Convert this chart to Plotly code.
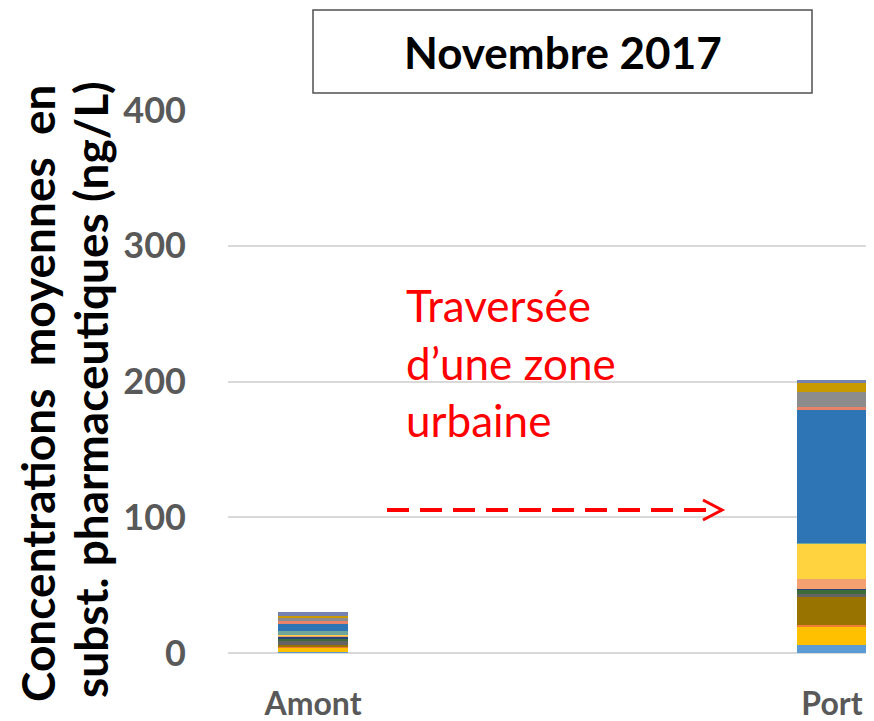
import plotly.graph_objects as go

sites = ["Amont", "Port"]
series_names = ["S1", "S2", "S3", "S4", "S5", "S6", "S7", "S8", "S9", "S10", "S11", "S12", "S13", "S14", "S15"]
amont_values = [0.5, 3.5, 0.5, 1.5, 3, 1.5, 2, 0.5, 0.5, 3, 5, 2, 3, 0.5, 3]
port_values = [6, 13, 1.5, 21, 2, 3, 1, 7, 26, 0.5, 98, 2, 11, 7, 2]
colors = ["#5B9BD5", "#FFC000", "#ED7D31", "#997300", "#636363", "#3E6B3A", "#264478",
          "#F4A070", "#FFD23F", "#6FA59A", "#2E75B6", "#E8836A", "#8C8C8C", "#C99A00", "#7582B0"]
y_ticks = [0, 100, 200, 300, 400]

FONT = "Lato"
OFF = 8  # page body margin
FW, FH = 874 - OFF, 721 - OFF
fig = go.Figure()
for i, name in enumerate(series_names):
    fig.add_trace(go.Bar(x=sites, y=[amont_values[i], port_values[i]], name=name,
                         marker=dict(color=colors[i], line=dict(width=0)), width=0.135))

# plot area in window pixels
L, T, W, H = 228, 110, 646, 543
def px(p):
    return (p - L) / W
def py(p):
    return (T + H - p) / H

shapes = [
    dict(type="rect", xref="paper", yref="paper", x0=px(313), x1=px(812), y0=py(93), y1=py(10),
         line=dict(color="#505050", width=1.5), fillcolor="rgba(0,0,0,0)"),
    dict(type="line", xref="paper", yref="paper", x0=px(387), x1=px(716), y0=py(510), y1=py(510),
         line=dict(color="#FF0000", width=4, dash="22px,11px")),
    dict(type="path", xref="paper", yref="paper",
         path=f"M {px(703)},{py(500)} L {px(722)},{py(510)} L {px(703)},{py(520)}",
         line=dict(color="#FF0000", width=3)),
]

annotations = [
    dict(text="Novembre 2017", xref="paper", yref="paper", x=px(563), y=py(52),
         xanchor="center", yanchor="middle", showarrow=False,
         font=dict(family=FONT, size=44, color="#000000", weight="bold")),
    dict(text="Concentrations\u00a0\u00a0moyennes\u00a0\u00a0en", xref="paper", yref="paper",
         x=px(37), y=py(393), xanchor="center", yanchor="middle", textangle=-90, showarrow=False,
         font=dict(family=FONT, size=46, color="#000000", weight="bold")),
    dict(text="subst. pharmaceutiques (ng/L)", xref="paper", yref="paper",
         x=px(90), y=py(390), xanchor="center", yanchor="middle", textangle=-90, showarrow=False,
         font=dict(family=FONT, size=46, color="#000000", weight="bold")),
]
for txt, yy in [("Traversée", 305), ("d\u2019une zone", 363), ("urbaine", 420)]:
    annotations.append(dict(text=txt, xref="paper", yref="paper", x=px(404), y=py(yy),
                            xanchor="left", yanchor="middle", showarrow=False,
                            font=dict(family=FONT, size=44, color="#FF0000")))

fig.update_layout(
    barmode="stack", width=FW, height=FH,
    margin=dict(l=L - OFF, r=FW - (L - OFF) - W, t=T - OFF, b=FH - (T - OFF) - H, autoexpand=False),
    plot_bgcolor="white", paper_bgcolor="white", showlegend=False,
    shapes=shapes, annotations=annotations,
    xaxis=dict(type="category", range=[-0.1638, 1.081], showgrid=False, showline=False,
               ticks="", tickfont=dict(family=FONT, size=32, color="#595959", weight="bold"),
               ticklabelstandoff=29, automargin=False),
    yaxis=dict(range=[0, 400], tickvals=y_ticks, showgrid=True, gridcolor="#D9D9D9", gridwidth=1.5,
               zeroline=True, zerolinecolor="#D9D9D9", zerolinewidth=1.5, showline=False,
               tickfont=dict(family=FONT, size=36, color="#595959", weight="bold"), ticklabelstandoff=41,
               automargin=False),
)
fig.write_html("out.html")
